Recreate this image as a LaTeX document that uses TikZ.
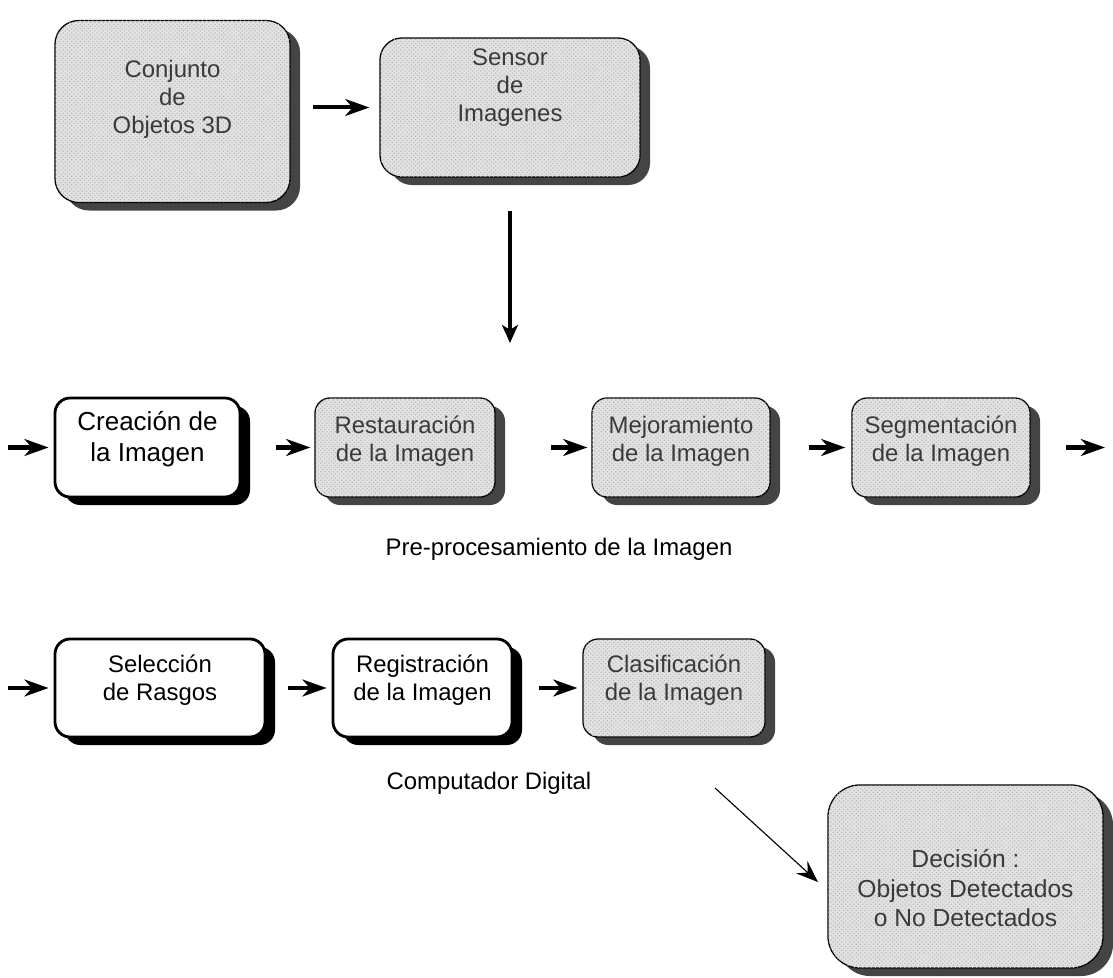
\documentclass[tikz,border=0pt]{standalone}
\usepackage{fontspec}
\setmainfont{Liberation Sans}
\usetikzlibrary{arrows.meta, positioning, calc, shadows, patterns}

\definecolor{boxfill}{HTML}{E2E2E2}
\definecolor{boxink}{HTML}{3A3A3A}
\definecolor{shadowgray}{HTML}{444444}

\begin{document}
\begin{tikzpicture}[
        x=0.025cm, y=-0.025cm,
        % grey stippled blocks
        graybox/.style={
            rectangle,
            draw=black,
            line width=0.9pt,
            rounded corners=0.38cm,
            fill=boxfill,
            postaction={pattern=crosshatch dots, pattern color=black!30},
            drop shadow={shadow xshift=0.25cm, shadow yshift=-0.2cm, fill=shadowgray, opacity=1},
            inner sep=0pt
        },
        % plain white blocks
        whitebox/.style={
            rectangle,
            draw=black,
            line width=2pt,
            rounded corners=0.38cm,
            fill=white,
            drop shadow={shadow xshift=0.25cm, shadow yshift=-0.2cm, fill=black, opacity=1},
            inner sep=0pt
        },
        graytxt/.style={align=center, text=boxink, font=\fontsize{17}{20}\selectfont},
        blacktxt/.style={align=center, text=black, font=\fontsize{17}{20}\selectfont},
        caption/.style={text=black, font=\fontsize{17}{20}\selectfont},
        flow/.style={
            line width=0.1cm,
            -{Stealth[length=0.6cm, width=0.42cm, inset=0.18cm]}
        },
        thinflow/.style={
            line width=0.8pt,
            -{Stealth[length=0.55cm, width=0.42cm, inset=0.2cm]}
        }
    ]

    \useasboundingbox (0,0) rectangle (1113,978);

    % Top row
    \node (conj) [graybox, minimum width=5.875cm, minimum height=4.55cm, rounded corners=0.6cm,
        label={[graytxt, yshift=0.3cm]center:{Conjunto\\de\\Objetos 3D}}] at (172.5,111.5) {};
    \node (sens) [graybox, minimum width=6.5cm, minimum height=3.475cm, rounded corners=0.55cm,
        label={[graytxt, yshift=0.5cm]center:{Sensor\\de\\Imagenes}}] at (510,107.5) {};

    % Pre-processing row
    \node (crea) [whitebox, minimum width=4.625cm, minimum height=2.475cm,
        label={[blacktxt, yshift=0.2cm, font=\fontsize{18.5}{22}\selectfont]center:{Creación de\\la Imagen}}] at (147.5,447.5) {};
    \node (rest) [graybox, minimum width=4.5cm, minimum height=2.475cm,
        label={[graytxt, yshift=0.15cm]center:{Restauración\\de la Imagen}}] at (405,447.5) {};
    \node (mejo) [graybox, minimum width=4.45cm, minimum height=2.475cm,
        label={[graytxt, yshift=0.15cm]center:{Mejoramiento\\de la Imagen}}] at (681,447.5) {};
    \node (segm) [graybox, minimum width=4.45cm, minimum height=2.475cm,
        label={[graytxt, yshift=0.15cm]center:{Segmentación\\de la Imagen}}] at (941,447.5) {};
    \node (prep) [caption] at (559,549) {Pre-procesamiento de la Imagen};

    % Digital computer row
    \node (sele) [whitebox, minimum width=5.25cm, minimum height=2.45cm,
        label={[blacktxt, yshift=0.2cm]center:{Selección\\de Rasgos}}] at (160,688) {};
    \node (regi) [whitebox, minimum width=4.475cm, minimum height=2.45cm,
        label={[blacktxt, yshift=0.2cm]center:{Registración\\de la Imagen}}] at (422.5,688) {};
    \node (clas) [graybox, minimum width=4.55cm, minimum height=2.45cm,
        label={[graytxt, yshift=0.2cm]center:{Clasificación\\de la Imagen}}] at (674,688) {};
    \node (comp) [caption] at (489,783) {Computador Digital};

    % Decision
    \node (deci) [graybox, minimum width=6.875cm, minimum height=4.575cm, rounded corners=0.8cm,
        label={[graytxt, yshift=-0.3cm, font=\fontsize{17.5}{21}\selectfont]center:{Decisión :\\Objetos Detectados\\o No Detectados}}] at (965.5,876.5) {};

    % Connecting arrows
    \draw [flow, shorten <=0.55cm, shorten >=0.25cm] (conj.east |- sens.west) -- (sens.west);
    \coordinate (down) at (510,343);
    \draw [flow, -{Stealth[length=0.45cm, width=0.4cm, inset=0.12cm]}, shorten <=0.825cm] (sens.south) -- (down);

    \coordinate (inrow) at (8,447.5);
    \draw [flow, shorten >=0.125cm] (inrow) -- (crea.west);
    \draw [flow, shorten <=0.875cm, shorten >=0.1cm] (crea.east) -- (rest.west);
    \draw [flow, shorten <=1.375cm, shorten >=0.1cm] (rest.east) -- (mejo.west);
    \draw [flow, shorten <=0.95cm, shorten >=0.15cm] (mejo.east) -- (segm.west);
    \coordinate (outrow) at (1105,447.5);
    \draw [flow, shorten <=0.875cm] (segm.east) -- (outrow);

    \coordinate (insel) at (8,688);
    \draw [flow, shorten >=0.125cm] (insel) -- (sele.west);
    \draw [flow, shorten <=0.55cm, shorten >=0.125cm] (sele.east) -- (regi.west);
    \draw [flow, shorten <=0.65cm, shorten >=0.125cm] (regi.east) -- (clas.west);

    \coordinate (diagA) at (715,788);
    \coordinate (diagB) at (818,882);
    \draw [thinflow] (diagA) -- (diagB);

\end{tikzpicture}
\end{document}
